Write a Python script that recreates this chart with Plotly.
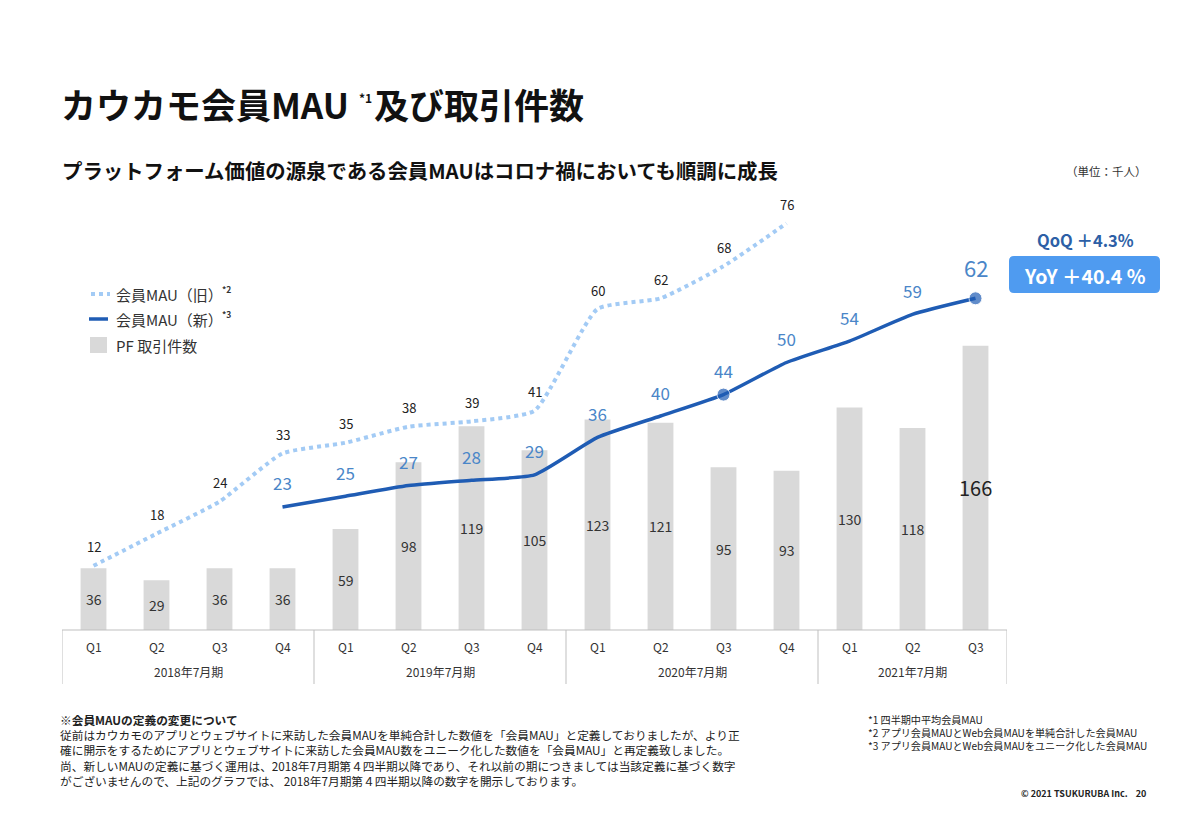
import plotly.graph_objects as go

# ---------------- data ----------------
quarters = ["Q1", "Q2", "Q3", "Q4", "Q1", "Q2", "Q3", "Q4",
            "Q1", "Q2", "Q3", "Q4", "Q1", "Q2", "Q3"]
fiscal_years = ["2018年7月期", "2019年7月期", "2020年7月期", "2021年7月期"]
fy_quarter_counts = [4, 4, 4, 3]
pf_deals = [36, 29, 36, 36, 59, 98, 119, 105, 123, 121, 95, 93, 130, 118, 166]
mau_old = [12, 18, 24, 33, 35, 38, 39, 41, 60, 62, 68, 76, None, None, None]
mau_new = [None, None, None, 23, 25, 27, 28, 29, 36, 40, 44, 50, 54, 59, 62]
highlight_idx = [10, 14]

FONT = "Noto Sans CJK JP"
W, H = 1200, 829
L, R, T, B = 62, 1007, 202, 630  # plot area in pixels


def px(xp):
    return (xp - L) / (R - L)


def py(yp):
    return (B - yp) / (B - T)


xs = list(range(len(quarters)))

OLD_C = "#a3cbf5"
NEW_C = "#1f5cb4"
NEW_LBL = "#4a86c8"
BAR_C = "#d9d9d9"
TXT = "#333333"

fig = go.Figure()
fig.add_trace(go.Bar(x=xs, y=pf_deals, width=0.41, marker=dict(color=BAR_C, line=dict(width=0)),
                     yaxis="y", hoverinfo="skip"))
fig.add_trace(go.Scatter(x=xs, y=mau_old, mode="lines", yaxis="y2",
                         line=dict(color=OLD_C, width=4, dash="dot", shape="spline", smoothing=0.5),
                         connectgaps=False, hoverinfo="skip"))
fig.add_trace(go.Scatter(x=xs, y=mau_new, mode="lines+markers", yaxis="y2",
                         line=dict(color=NEW_C, width=3.5, shape="spline", smoothing=0.5),
                         marker=dict(color=NEW_C, size=[13 if i in highlight_idx else 0 for i in xs]),
                         hoverinfo="skip"))

ann = []


def txt(x, y, text, size, color=TXT, xanchor="center", yanchor="middle", xref="paper", yref="paper", **kw):
    ann.append(dict(x=x, y=y, xref=xref, yref=yref, text=text, showarrow=False,
                    xanchor=xanchor, yanchor=yanchor,
                    font=dict(family=FONT, size=size, color=color), **kw))


# bar labels (center of bar)
for i, v in enumerate(pf_deals):
    last = i == len(pf_deals) - 1
    txt(i, v / 2, str(v), 20 if last else 14, "#222222" if last else TXT, xref="x", yref="y")
# old MAU labels
for i, v in enumerate(mau_old):
    if v is None:
        continue
    txt(i, v, str(v), 13, "#222222", xref="x", yref="y2", yshift=19)
# new MAU labels
for i, v in enumerate(mau_new):
    if v is None:
        continue
    last = i == len(mau_new) - 1
    txt(i, v, str(v), 22 if last else 17, NEW_LBL, xref="x", yref="y2", yshift=31 if last else 24)

shapes = []
# category table
shapes.append(dict(type="line", xref="x", yref="paper", x0=-0.5, x1=len(xs) - 0.5, y0=0, y1=0,
                   line=dict(color="#bfbfbf", width=1)))
bounds = [-0.5]
acc = 0
for c in fy_quarter_counts:
    acc += c
    bounds.append(acc - 0.5)
for b in bounds:
    shapes.append(dict(type="line", xref="x", yref="paper", x0=b, x1=b, y0=py(684), y1=0,
                       line=dict(color="#bfbfbf", width=1)))
for i, q in enumerate(quarters):
    txt(i, py(646), q, 12, TXT, xref="x")
start = 0
for fy, c in zip(fiscal_years, fy_quarter_counts):
    txt(start + (c - 1) / 2, py(671), fy, 12, TXT, xref="x")
    start += c

# legend
shapes.append(dict(type="line", xref="paper", yref="paper", x0=px(91), x1=px(110), y0=py(294), y1=py(294),
                   line=dict(color=OLD_C, width=4, dash="dot")))
shapes.append(dict(type="line", xref="paper", yref="paper", x0=px(89), x1=px(108), y0=py(319), y1=py(319),
                   line=dict(color=NEW_C, width=3.5)))
shapes.append(dict(type="rect", xref="paper", yref="paper", x0=px(90), x1=px(107), y0=py(353), y1=py(337),
                   fillcolor=BAR_C, line=dict(width=0)))
txt(px(114), py(294), "会員MAU（旧）", 15, TXT, xanchor="left")
txt(px(220), py(289), "<b>*2</b>", 8.5, TXT, xanchor="left")
txt(px(114), py(319), "会員MAU（新）", 15, TXT, xanchor="left")
txt(px(220), py(314), "<b>*3</b>", 8.5, TXT, xanchor="left")
txt(px(114), py(345), "PF 取引件数", 15, TXT, xanchor="left")

# titles
txt(px(59), py(103), "<b>カウカモ会員MAU</b>", 35, "#111111", xanchor="left")
txt(px(357), py(97), "<b>*1</b>", 12, "#111111", xanchor="left")
txt(px(372), py(103), "<b>及び取引件数</b>", 35, "#111111", xanchor="left")
txt(px(60), py(170), "<b>プラットフォーム価値の源泉である会員MAUはコロナ禍においても順調に成長</b>",
    20.4, "#111111", xanchor="left")
txt(px(1149), py(171), "（単位：千人）", 11.5, TXT, xanchor="right")

# QoQ / YoY
txt(px(1085), py(240), "<b>QoQ ＋4.3%</b>", 16.5, "#2d5fa6")
x0, x1, y0, y1 = px(1009), px(1160), py(293), py(256)
rx, ry = 5 / (R - L), 5 / (B - T)
path = (f"M {x0+rx},{y0} L {x1-rx},{y0} Q {x1},{y0} {x1},{y0+ry} L {x1},{y1-ry} Q {x1},{y1} {x1-rx},{y1} "
        f"L {x0+rx},{y1} Q {x0},{y1} {x0},{y1-ry} L {x0},{y0+ry} Q {x0},{y0} {x0+rx},{y0} Z")
shapes.append(dict(type="path", xref="paper", yref="paper", path=path, fillcolor="#4f9bf0",
                   line=dict(width=0)))
txt(px(1084.5), py(275), "<b>YoY ＋40.4 %</b>", 19.5, "white")

# footnotes
left_notes = ("<b>※会員MAUの定義の変更について</b><br>"
              "従前はカウカモのアプリとウェブサイトに来訪した会員MAUを単純合計した数値を「会員MAU」と定義しておりましたが、より正<br>"
              "確に開示をするためにアプリとウェブサイトに来訪した会員MAU数をユニーク化した数値を「会員MAU」と再定義致しました。<br>"
              "尚、新しいMAUの定義に基づく運用は、2018年7月期第４四半期以降であり、それ以前の期につきましては当該定義に基づく数字<br>"
              "がございませんので、上記のグラフでは、 2018年7月期第４四半期以降の数字を開示しております。")
txt(px(58), py(709), left_notes, 11.7, "#222222", xanchor="left", yanchor="top", align="left")
right_notes = ("*1 四半期中平均会員MAU<br>"
               "*2 アプリ会員MAUとWeb会員MAUを単純合計した会員MAU<br>"
               "*3 アプリ会員MAUとWeb会員MAUをユニーク化した会員MAU")
txt(px(866), py(710), right_notes, 10.1, "#222222", xanchor="left", yanchor="top", align="left")
txt(px(1148), py(793), "<b>© 2021 TSUKURUBA Inc.    20</b>", 9, "#222222", xanchor="right")

fig.update_layout(
    width=W, height=H, autosize=False,
    margin=dict(l=L, r=W - R, t=T, b=H - B, pad=0),
    paper_bgcolor="white", plot_bgcolor="white",
    showlegend=False,
    xaxis=dict(range=[-0.5, len(xs) - 0.5], visible=False, fixedrange=True),
    yaxis=dict(range=[0, 250], visible=False),
    yaxis2=dict(range=[0, 80], visible=False, overlaying="y"),
    annotations=ann, shapes=shapes,
    font=dict(family=FONT),
)

fig.write_html("out.html", config={"displayModeBar": False},
               post_script="document.body.style.margin='0';")
